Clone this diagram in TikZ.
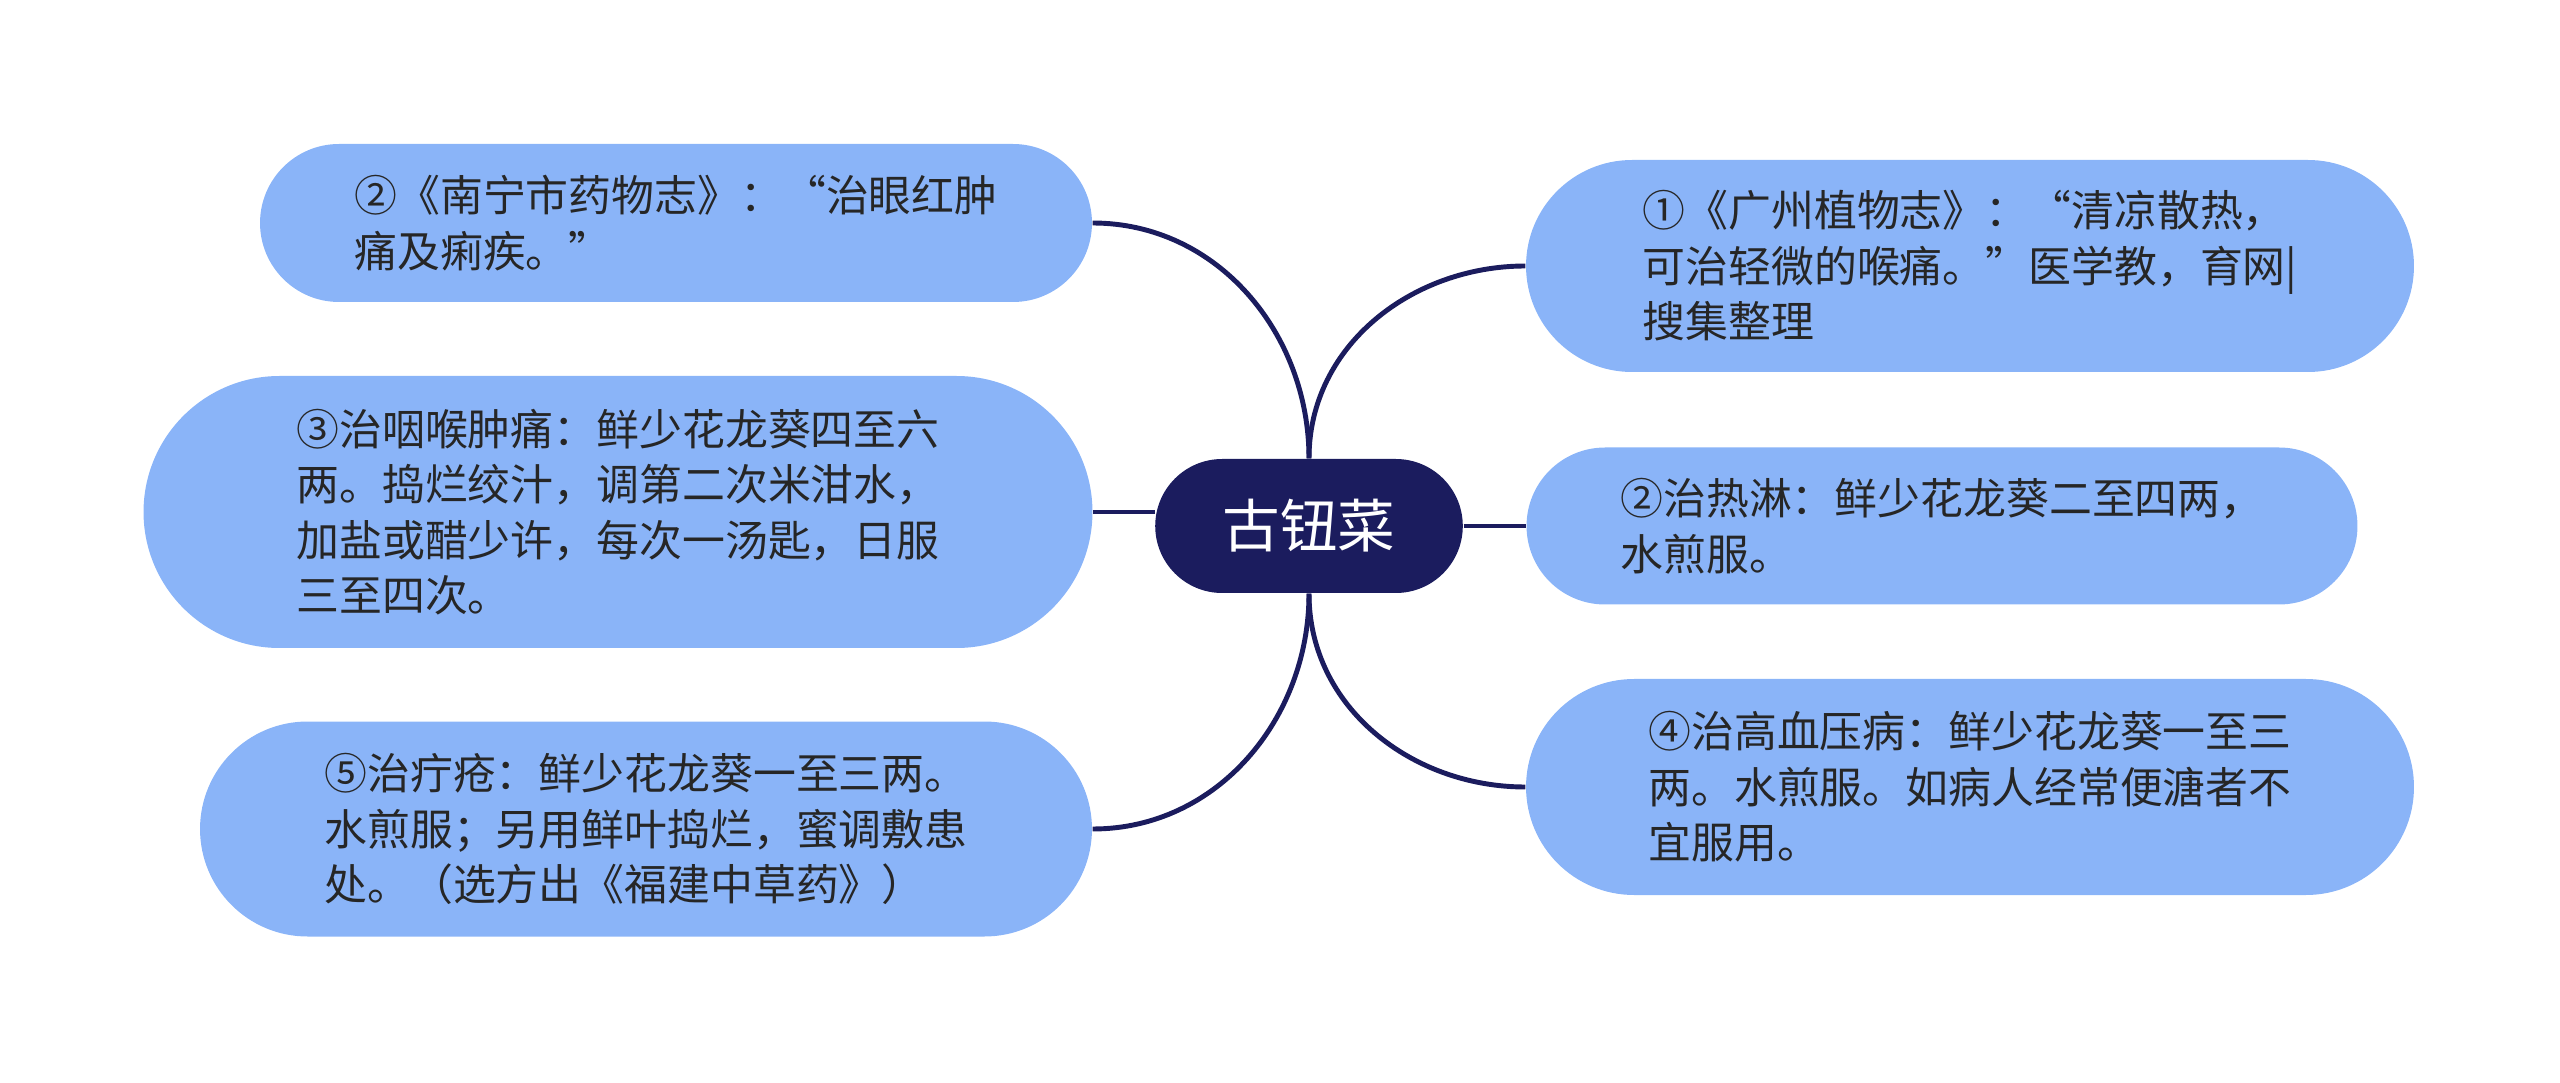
\documentclass[tikz,border=0pt]{standalone}
\usepackage{fontspec}
\newfontfamily\cjk{Noto Sans CJK SC}
\usepackage{tikz}
\usetikzlibrary{shapes.misc,positioning}
\definecolor{leafblue}{HTML}{8AB4F8}
\definecolor{rootnavy}{HTML}{1B1C5E}
\definecolor{leaftext}{HTML}{262626}

\begin{document}
\begin{tikzpicture}[
  every node/.style={font=\cjk\fontsize{12.2pt}{15.8pt}\selectfont, align=left},
  leaf/.style={rounded rectangle, fill=leafblue, text=leaftext, inner sep=2pt},
  root/.style={rounded rectangle, fill=rootnavy, text=white, font=\cjk\fontsize{16.4pt}{20pt}\selectfont, minimum width=3.31cm, minimum height=1.34cm},
  link/.style={draw=rootnavy, line width=1.4pt}
]
\useasboundingbox (0,0) rectangle (25.6,-10.83);

% centre
\node[root] (gu) at (13.09,-5.26) {古钮菜};

% left side
\node[leaf, minimum width=8.46cm, minimum height=1.58cm] (nanning) at (6.76,-2.23)
  {②《南宁市药物志》：“治眼红肿\\痛及痢疾。”};
\node[leaf, minimum width=9.63cm, minimum height=2.72cm] (yanhou) at (6.18,-5.12)
  {③治咽喉肿痛：鲜少花龙葵四至六\\两。捣烂绞汁，调第二次米泔水，\\加盐或醋少许，每次一汤匙，日服\\三至四次。};
\node[leaf, minimum width=9.06cm, minimum height=2.15cm] (dingchuang) at (6.46,-8.29)
  {⑤治疔疮：鲜少花龙葵一至三两。\\水煎服；另用鲜叶捣烂，蜜调敷患\\处。（选方出《福建中草药》）};

% right side
\node[leaf, minimum width=9.02cm, minimum height=2.12cm] (guangzhou) at (19.70,-2.66)
  {①《广州植物志》：“清凉散热，\\可治轻微的喉痛。”医学教，育网|\\搜集整理};
\node[leaf, minimum width=8.45cm, minimum height=1.57cm] (relin) at (19.42,-5.26)
  {②治热淋：鲜少花龙葵二至四两，\\水煎服。};
\node[leaf, minimum width=9.02cm, minimum height=2.16cm] (gaoxueya) at (19.70,-7.87)
  {④治高血压病：鲜少花龙葵一至三\\两。水煎服。如病人经常便溏者不\\宜服用。};

\draw[link] (gu.north) to[out=90,in=0] (nanning.east);
\draw[link] (gu.north) to[out=90,in=180] (guangzhou.west);
\draw[link] (yanhou.east) -- (yanhou.east -| gu.west);
\draw[link] (gu.east) -- (relin.west);
\draw[link] (gu.south) to[out=-90,in=0] (dingchuang.east);
\draw[link] (gu.south) to[out=-90,in=180] (gaoxueya.west);
\end{tikzpicture}
\end{document}
